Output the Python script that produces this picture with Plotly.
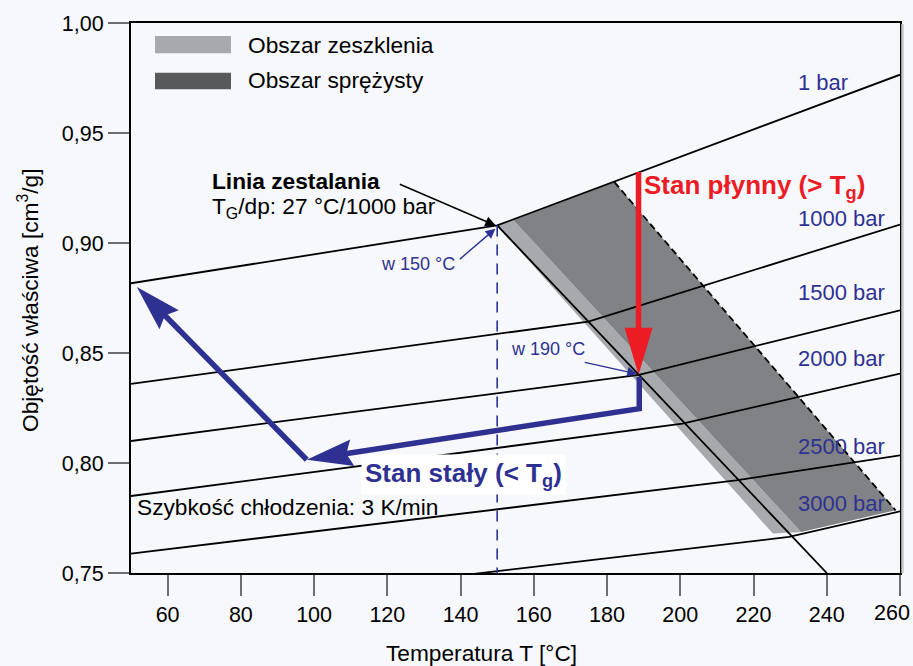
import math
import plotly.graph_objects as go

# ---------------- data ----------------
iso_labels = ["1 bar", "1000 bar", "1500 bar", "2000 bar", "2500 bar", "3000 bar"]
iso_T = [
    [50, 150.0, 260],
    [50, 174.9, 260],
    [50, 188.7, 260],
    [50, 200.6, 260],
    [50, 215.2, 260],
    [50, 229.7, 260],
]
iso_V = [
    [0.8817, 0.9080, 0.9765],
    [0.8360, 0.8643, 0.9084],
    [0.8100, 0.8401, 0.8694],
    [0.7850, 0.8179, 0.8406],
    [0.7588, 0.7921, 0.8035],
    [0.7313, 0.7664, 0.7780],
]
label_V = [0.9729, 0.9111, 0.8777, 0.8475, 0.8073, 0.7815]

trans_T = [150, 240]          # Linia zestalania
trans_V = [0.908, 0.750]

glass_T = [150, 154.4, 233.0, 225.3]      # Obszar zeszklenia
glass_V = [0.908, 0.9105, 0.7686, 0.7679]
elastic_T = [154.4, 182.0, 258.8, 233.0]  # Obszar sprężysty
elastic_V = [0.9105, 0.9277, 0.7785, 0.7686]
edge_T = [182.0, 258.8]
edge_V = [0.9277, 0.7785]

tg_T = [150, 150]
tg_V = [0.908, 0.750]

liquid_T = [188.6, 188.6]     # red arrow (top, tip)
liquid_V = [0.9323, 0.8401]
solid_T = [188.8, 188.8, 98.0, 51.6]   # blue path
solid_V = [0.8391, 0.8247, 0.8015, 0.8800]

x_ticks = [60, 80, 100, 120, 140, 160, 180, 200, 220, 240, 260]
x_tick_labels = ["60", "80", "100", "120", "140", "160", "180", "200", "220", "240", "260"]
y_ticks = [0.75, 0.80, 0.85, 0.90, 0.95, 1.00]

# ---------------- style ----------------
BG = "#f6f8fc"
NAVY = "#2e3192"
RED = "#ed1c24"
LIGHT = "#a7a9ac"
DARK = "#808285"
LEG_DARK = "#58595b"
FONT = "Liberation Sans, Arial, sans-serif"
TXT = 22.7

W, H = 913, 666
ML, MR, MT, MB = 131, 13, 23, 93
XR = [50, 260]
YR = [0.75, 1.00]
PW = W - ML - MR
PH = H - MT - MB
SX = PW / (XR[1] - XR[0])
SY = PH / (YR[1] - YR[0])


def head(tip, frm, L, Wd, notch=0.0):
    dx = (tip[0] - frm[0]) * SX
    dy = (tip[1] - frm[1]) * SY
    n = math.hypot(dx, dy)
    ux, uy = dx / n, dy / n
    px, py = -uy, ux
    pts = [(0, 0),
           (-L * ux + Wd / 2 * px, -L * uy + Wd / 2 * py),
           (-(L - notch) * ux, -(L - notch) * uy),
           (-L * ux - Wd / 2 * px, -L * uy - Wd / 2 * py)]
    xs = [tip[0] + a / SX for a, b in pts] + [tip[0]]
    ys = [tip[1] + b / SY for a, b in pts] + [tip[1]]
    k = L - notch - 1
    neck = (tip[0] - k * ux / SX, tip[1] - k * uy / SY)
    return xs, ys, neck


def px_x(p):
    return (p - ML) / PW


def px_y(p):
    return (H - MB - p) / PH


fig = go.Figure()

# shaded areas
fig.add_trace(go.Scatter(x=glass_T, y=glass_V, fill="toself", fillcolor=LIGHT,
                         mode="lines", line=dict(width=0), hoverinfo="skip"))
fig.add_trace(go.Scatter(x=elastic_T, y=elastic_V, fill="toself", fillcolor=DARK,
                         mode="lines", line=dict(width=0), hoverinfo="skip"))
fig.add_trace(go.Scatter(x=edge_T, y=edge_V, mode="lines",
                         line=dict(color="black", width=1.8, dash="7px,4px")))

# isobars
for t, v in zip(iso_T, iso_V):
    fig.add_trace(go.Scatter(x=t, y=v, mode="lines", line=dict(color="black", width=1.8)))

# solidification line
fig.add_trace(go.Scatter(x=trans_T, y=trans_V, mode="lines", line=dict(color="black", width=1.8)))

# Tg dashed vertical
fig.add_trace(go.Scatter(x=tg_T, y=tg_V, mode="lines",
                         line=dict(color=NAVY, width=1.6, dash="11px,8px")))

# blue path with two arrow heads
hx1, hy1, neck1 = head((solid_T[2], solid_V[2]), (solid_T[1], solid_V[1]), 46, 27, 6)
hx2, hy2, neck2 = head((solid_T[3], solid_V[3]), (solid_T[2], solid_V[2]), 46, 27, 6)
fig.add_trace(go.Scatter(x=[solid_T[0], solid_T[1], neck1[0]], y=[solid_V[0], solid_V[1], neck1[1]],
                         mode="lines", line=dict(color=NAVY, width=5.5)))
fig.add_trace(go.Scatter(x=[solid_T[2], neck2[0]], y=[solid_V[2], neck2[1]],
                         mode="lines", line=dict(color=NAVY, width=5.5)))
for hx, hy in [(hx1, hy1), (hx2, hy2)]:
    fig.add_trace(go.Scatter(x=hx, y=hy, fill="toself", fillcolor=NAVY, mode="lines",
                             line=dict(width=0, color=NAVY)))

# red arrow
rx, ry, rneck = head((liquid_T[1], liquid_V[1]), (liquid_T[0], liquid_V[0]), 47, 28, 0)
fig.add_trace(go.Scatter(x=[liquid_T[0], rneck[0]], y=[liquid_V[0], rneck[1]],
                         mode="lines", line=dict(color=RED, width=5.5)))
fig.add_trace(go.Scatter(x=rx, y=ry, fill="toself", fillcolor=RED, mode="lines",
                         line=dict(width=0, color=RED)))

ann = []
for lab, v in zip(iso_labels, label_V):
    ann.append(dict(x=231.6, y=v, text=lab, xanchor="left", yanchor="middle", showarrow=False,
                    font=dict(size=22, color=NAVY)))

ann += [
    dict(x=71.5, y=0.9282, text="<b>Linia zestalania</b>", xanchor="left", yanchor="middle",
         showarrow=False, font=dict(size=TXT, color="black")),
    dict(x=71.5, y=0.9160, text="T<sub>G</sub>/dp: 27 °C/1000 bar", xanchor="left", yanchor="middle",
         showarrow=False, font=dict(size=TXT, color="black")),
    dict(x=149.6, y=0.9079, ax=123.0, ay=0.9270, axref="x", ayref="y", text="", showarrow=True,
         arrowhead=2, arrowsize=1.4, arrowwidth=1.5, arrowcolor="black"),
    dict(x=117.6, y=0.8906, text="w 150 °C", xanchor="left", yanchor="middle", showarrow=False,
         font=dict(size=18, color=NAVY)),
    dict(x=149.5, y=0.9065, ax=139.4, ay=0.8921, axref="x", ayref="y", text="", showarrow=True,
         arrowhead=2, arrowsize=1.4, arrowwidth=1.4, arrowcolor=NAVY),
    dict(x=153.3, y=0.8520, text="w 190 °C", xanchor="left", yanchor="middle", showarrow=False,
         font=dict(size=18, color=NAVY)),
    dict(x=188.2, y=0.8405, ax=173.5, ay=0.8459, axref="x", ayref="y", text="", showarrow=True,
         arrowhead=2, arrowsize=1.4, arrowwidth=1.4, arrowcolor=NAVY),
    dict(x=51.2, y=0.7800, text="Szybkość chłodzenia: 3 K/min", xanchor="left", yanchor="middle",
         showarrow=False, font=dict(size=TXT, color="black")),
    dict(x=189.6, y=0.9255, text="<b>Stan płynny (> T<sub>g</sub>)</b>", xanchor="left",
         yanchor="middle", showarrow=False, font=dict(size=26, color=RED)),
    dict(x=140.9, y=0.7946, text="<b>Stan stały (< T<sub>g</sub>)</b>", xanchor="center",
         yanchor="middle", showarrow=False, font=dict(size=26, color=NAVY), bgcolor="white",
         borderpad=3),
    # legend texts
    dict(x=px_x(246), y=px_y(45.5), xref="paper", yref="paper",
         text="Obszar zeszklenia", xanchor="left", yanchor="middle", showarrow=False,
         font=dict(size=TXT, color="black")),
    dict(x=px_x(246), y=px_y(80), xref="paper", yref="paper",
         text="Obszar sprężysty", xanchor="left", yanchor="middle", showarrow=False,
         font=dict(size=TXT, color="black")),
    # axis titles
    dict(x=px_x(28), y=px_y(300), xref="paper", yref="paper",
         text="Objętość właściwa [cm<sup>3</sup>/g]", textangle=-90, showarrow=False,
         xanchor="center", yanchor="middle", font=dict(size=TXT, color="black")),
    dict(x=px_x(481), y=px_y(653), xref="paper", yref="paper",
         text="Temperatura T [°C]", showarrow=False, xanchor="center", yanchor="middle",
         font=dict(size=TXT, color="black")),
    # last x tick label, shifted inward to fit the page like the reference
    dict(x=px_x(891.5), y=px_y(612.5), xref="paper", yref="paper",
         text=x_tick_labels[-1], showarrow=False, xanchor="center", yanchor="middle",
         font=dict(size=21.5, color="black")),
]

shapes = [
    dict(type="rect", xref="paper", yref="paper",
         x0=px_x(155), x1=px_x(231), y0=px_y(53.3), y1=px_y(36),
         fillcolor=LIGHT, line=dict(width=0)),
    dict(type="rect", xref="paper", yref="paper",
         x0=px_x(155), x1=px_x(231), y0=px_y(89.3), y1=px_y(72.7),
         fillcolor=LEG_DARK, line=dict(width=0)),
    dict(type="line", xref="paper", yref="paper", x0=1 + 2.5 / PW, x1=1 + 2.5 / PW,
         y0=0, y1=1 - 1 / PH, line=dict(color="#c9cacc", width=2.5)),
]

fig.update_layout(
    width=W, height=H,
    margin=dict(l=ML, r=MR, t=MT, b=MB),
    paper_bgcolor=BG, plot_bgcolor=BG,
    showlegend=False,
    separators=", ",
    font=dict(family=FONT, size=21.5, color="black"),
    annotations=ann,
    shapes=shapes,
)
fig.update_xaxes(range=XR, tickvals=x_ticks, ticktext=x_tick_labels[:-1] + [""], ticks="outside",
                 ticklen=21, tickwidth=1.5,
                 tickcolor="#6d6e71", showline=True, linecolor="black", linewidth=2, mirror=True,
                 showgrid=False, zeroline=False, tickfont=dict(size=21.5))
fig.update_yaxes(range=YR, tickvals=y_ticks, tickformat=".2f", ticks="outside", ticklen=21,
                 tickwidth=1.5, tickcolor="#6d6e71", showline=True, linecolor="black", linewidth=2,
                 mirror=True, showgrid=False, zeroline=False, tickfont=dict(size=21.5))

fig.write_html("out.html", config={"displayModeBar": False},
               post_script="document.body.style.margin='0';"
                           "document.body.style.background='" + BG + "';")
